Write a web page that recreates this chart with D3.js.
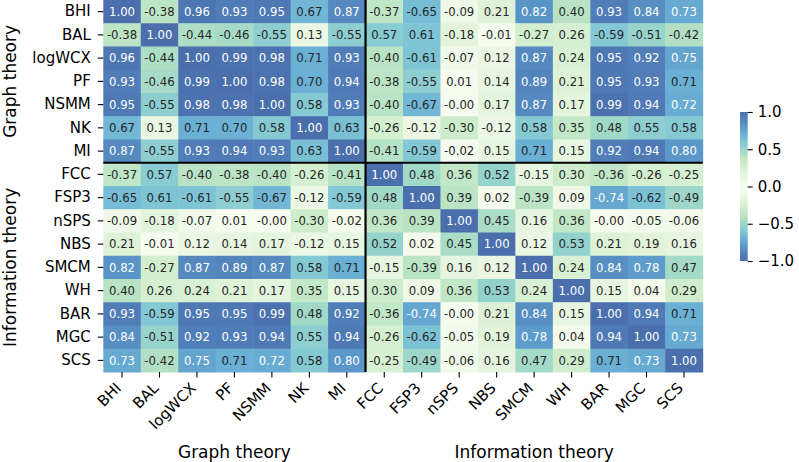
<!DOCTYPE html>
<html>
<head>
<meta charset="utf-8">
<script src="https://cdn.jsdelivr.net/npm/d3@7"></script>
<style>
  body { margin: 0; background: #fff; }
  svg { display: block; font-family: "DejaVu Sans", sans-serif; }
  .tick line { stroke: #000; stroke-width: 1.1; }
  .tick text { fill: #000; font-size: 15px; font-family: "DejaVu Sans", sans-serif; }
</style>
</head>
<body>
<svg id="chart" width="799" height="462"></svg>
<script>
// Descriptor names, same order for rows and columns.
const labels = ["BHI", "BAL", "logWCX", "PF", "NSMM", "NK", "MI",
  "FCC", "FSP3", "nSPS", "NBS", "SMCM", "WH", "BAR", "MGC", "SCS"];

// Blocks of descriptors: [name, first index, end index].
const groups = [["Graph theory", 0, 7], ["Information theory", 7, 16]];

// Correlation matrix, row by row.
const corr = [
  [1.00, -0.38, 0.96, 0.93, 0.95, 0.67, 0.87, -0.37, -0.65, -0.09, 0.21, 0.82, 0.40, 0.93, 0.84, 0.73],
  [-0.38, 1.00, -0.44, -0.46, -0.55, 0.13, -0.55, 0.57, 0.61, -0.18, -0.01, -0.27, 0.26, -0.59, -0.51, -0.42],
  [0.96, -0.44, 1.00, 0.99, 0.98, 0.71, 0.93, -0.40, -0.61, -0.07, 0.12, 0.87, 0.24, 0.95, 0.92, 0.75],
  [0.93, -0.46, 0.99, 1.00, 0.98, 0.70, 0.94, -0.38, -0.55, 0.01, 0.14, 0.89, 0.21, 0.95, 0.93, 0.71],
  [0.95, -0.55, 0.98, 0.98, 1.00, 0.58, 0.93, -0.40, -0.67, -0.00, 0.17, 0.87, 0.17, 0.99, 0.94, 0.72],
  [0.67, 0.13, 0.71, 0.70, 0.58, 1.00, 0.63, -0.26, -0.12, -0.30, -0.12, 0.58, 0.35, 0.48, 0.55, 0.58],
  [0.87, -0.55, 0.93, 0.94, 0.93, 0.63, 1.00, -0.41, -0.59, -0.02, 0.15, 0.71, 0.15, 0.92, 0.94, 0.80],
  [-0.37, 0.57, -0.40, -0.38, -0.40, -0.26, -0.41, 1.00, 0.48, 0.36, 0.52, -0.15, 0.30, -0.36, -0.26, -0.25],
  [-0.65, 0.61, -0.61, -0.55, -0.67, -0.12, -0.59, 0.48, 1.00, 0.39, 0.02, -0.39, 0.09, -0.74, -0.62, -0.49],
  [-0.09, -0.18, -0.07, 0.01, -0.00, -0.30, -0.02, 0.36, 0.39, 1.00, 0.45, 0.16, 0.36, -0.00, -0.05, -0.06],
  [0.21, -0.01, 0.12, 0.14, 0.17, -0.12, 0.15, 0.52, 0.02, 0.45, 1.00, 0.12, 0.53, 0.21, 0.19, 0.16],
  [0.82, -0.27, 0.87, 0.89, 0.87, 0.58, 0.71, -0.15, -0.39, 0.16, 0.12, 1.00, 0.24, 0.84, 0.78, 0.47],
  [0.40, 0.26, 0.24, 0.21, 0.17, 0.35, 0.15, 0.30, 0.09, 0.36, 0.53, 0.24, 1.00, 0.15, 0.04, 0.29],
  [0.93, -0.59, 0.95, 0.95, 0.99, 0.48, 0.92, -0.36, -0.74, -0.00, 0.21, 0.84, 0.15, 1.00, 0.94, 0.71],
  [0.84, -0.51, 0.92, 0.93, 0.94, 0.55, 0.94, -0.26, -0.62, -0.05, 0.19, 0.78, 0.04, 0.94, 1.00, 0.73],
  [0.73, -0.42, 0.75, 0.71, 0.72, 0.58, 0.80, -0.25, -0.49, -0.06, 0.16, 0.47, 0.29, 0.71, 0.73, 1.00]
];

const cbarTicks = [1.0, 0.5, 0.0, -0.5, -1.0];

// Plot box.
const plotL = 103.3, plotR = 702.7, plotT = 0, plotB = 372;
const cbar = { x: 740, w: 7.7, top: 112, bottom: 261 };

const svg = d3.select("#chart");

// Symmetric map on |r|: pale at 0, steel blue at +-1.
const color = d3.scaleLinear()
  .domain([0, 0.1, 0.2, 0.3, 0.4, 0.5, 0.6, 0.7, 0.8, 0.9, 1.0])
  .range(["#f6fbef", "#eef8e7", "#e0f3d9", "#cdeccb", "#b9e3c4", "#9bd6ca",
          "#80c6d5", "#6cb1d5", "#5b98c9", "#5282bb", "#4a6fac"])
  .clamp(true);
const fill = v => color(Math.abs(v));

const fmt = v => (v < 0 || Object.is(v, -0) ? "-" : "") + Math.abs(v).toFixed(2);

const x = d3.scaleBand().domain(labels).range([plotL, plotR]);
const y = d3.scaleBand().domain(labels).range([plotT, plotB]);

const cells = corr.flatMap((row, i) => row.map((v, j) => ({ r: labels[i], c: labels[j], v })));

svg.append("g").selectAll("rect")
  .data(cells)
  .join("rect")
  .attr("x", d => x(d.c))
  .attr("y", d => y(d.r))
  .attr("width", x.bandwidth() + 0.5)
  .attr("height", y.bandwidth() + 0.5)
  .attr("fill", d => fill(d.v));

svg.append("g").selectAll("text")
  .data(cells)
  .join("text")
  .attr("x", d => x(d.c) + x.bandwidth() / 2)
  .attr("y", d => y(d.r) + y.bandwidth() / 2)
  .attr("dy", "0.36em")
  .attr("text-anchor", "middle")
  .attr("font-size", 11.7)
  .attr("fill", d => Math.abs(d.v) > 0.715 ? "#fff" : "#262626")
  .text(d => fmt(d.v));

// Block separators.
const split = labels[groups[1][1]];
svg.append("line")
  .attr("x1", x(split)).attr("x2", x(split))
  .attr("y1", plotT).attr("y2", plotB)
  .attr("stroke", "#000").attr("stroke-width", 2.2);
svg.append("line")
  .attr("x1", plotL).attr("x2", plotR)
  .attr("y1", y(split)).attr("y2", y(split))
  .attr("stroke", "#000").attr("stroke-width", 2.2);

// Axes.
const yAxis = svg.append("g")
  .attr("transform", `translate(${plotL},0)`)
  .call(d3.axisLeft(y).tickSize(5.5).tickPadding(7));
yAxis.select(".domain").remove();

const xAxis = svg.append("g")
  .attr("transform", `translate(0,${plotB})`)
  .call(d3.axisBottom(x).tickSize(5.5).tickPadding(4));
xAxis.select(".domain").remove();
xAxis.selectAll(".tick text")
  .attr("y", 0).attr("dy", 0)
  .attr("text-anchor", "end")
  .attr("transform", "translate(0,17) rotate(-45)");

// Block titles.
groups.forEach(([name, a, b]) => {
  const mx = (x(labels[a]) + x(labels[b - 1]) + x.bandwidth()) / 2;
  const my = (y(labels[a]) + y(labels[b - 1]) + y.bandwidth()) / 2;
  svg.append("text")
    .attr("x", mx).attr("y", 458)
    .attr("text-anchor", "middle")
    .attr("font-size", 17)
    .text(name);
  svg.append("text")
    .attr("transform", `translate(15.5,${my}) rotate(-90)`)
    .attr("text-anchor", "middle")
    .attr("font-size", 17)
    .text(name);
});

// Colour bar.
const grad = svg.append("defs").append("linearGradient")
  .attr("id", "cbar").attr("x1", 0).attr("x2", 0).attr("y1", 1).attr("y2", 0);
d3.range(0, 1.0001, 0.02).forEach(t => {
  grad.append("stop").attr("offset", t).attr("stop-color", fill(-1 + 2 * t));
});
svg.append("rect")
  .attr("x", cbar.x).attr("y", cbar.top)
  .attr("width", cbar.w).attr("height", cbar.bottom - cbar.top)
  .attr("fill", "url(#cbar)");

const cScale = d3.scaleLinear().domain([-1, 1]).range([cbar.bottom, cbar.top]);
const cAxis = svg.append("g")
  .attr("transform", `translate(${cbar.x + cbar.w},0)`)
  .call(d3.axisRight(cScale).tickValues(cbarTicks).tickFormat(d3.format(".1f")).tickSize(5).tickPadding(5));
cAxis.select(".domain").remove();
</script>
</body>
</html>
